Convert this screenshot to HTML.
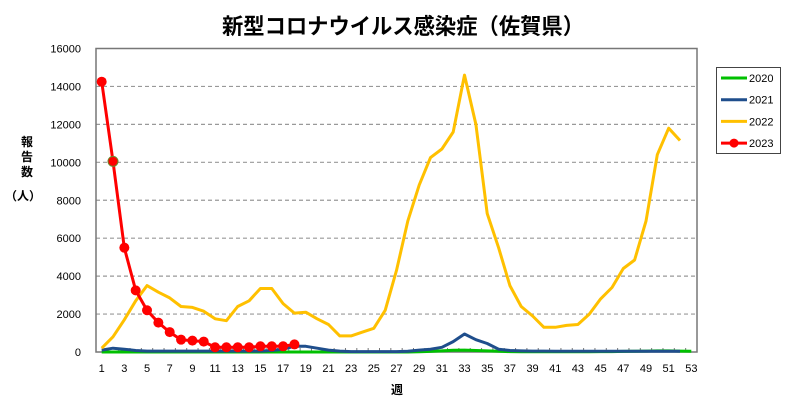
<!DOCTYPE html>
<html><head><meta charset="utf-8"><style>
html,body{margin:0;padding:0;background:#fff;}
svg{display:block;font-family:"Liberation Sans","Noto Sans CJK JP",sans-serif;}
</style></head><body>
<svg id="c" width="806" height="400" viewBox="0 0 806 400" xmlns="http://www.w3.org/2000/svg">
<rect width="806" height="400" fill="#fff"/>
<text x="403" y="34" font-size="22" font-weight="bold" text-anchor="middle" textLength="362" lengthAdjust="spacingAndGlyphs" font-family="'Noto Sans CJK JP',sans-serif">新型コロナウイルス感染症（佐賀県）</text>
<g id="grid"></g>
<rect x="96" y="48.5" width="601" height="303.5" fill="none" stroke="#777" stroke-width="1.5"/>
<g id="series"></g>
<g font-size="12" font-weight="bold" font-family="'Noto Sans CJK JP',sans-serif" text-anchor="middle">
<text x="27" y="146">報</text><text x="27" y="161">告</text><text x="27" y="176">数</text>
<text x="23" y="200">（人）</text>
<text x="397" y="394">週</text>
</g>
<g id="leg">
<rect x="716.5" y="67.5" width="64" height="86" fill="#fff" stroke="#444" stroke-width="1"/>
</g>
</svg>
<script>
var ns="http://www.w3.org/2000/svg";
function el(t,a,p){var e=document.createElementNS(ns,t);for(var k in a)e.setAttribute(k,a[k]);(p||document.getElementById('c')).appendChild(e);return e;}
function X(w){return 96+(w-0.5)*601/53;}
function Y(v){return 352-v*303.5/16000;}
var g=document.getElementById('grid');
for(var v=0;v<=16000;v+=2000){
 var y=Y(v);
 if(v>0&&v<16000) el('line',{x1:96,x2:697,y1:y,y2:y,stroke:'#999','stroke-dasharray':'4,3','stroke-width':1.2},g);
 var t=el('text',{x:81,y:y+4,'font-size':11,'text-anchor':'end'},g);t.textContent=v;
}
for(var w=1;w<=53;w+=2){var t=el('text',{x:X(w),y:372,'font-size':11,'text-anchor':'middle'},g);t.textContent=w;}
for(var w=0;w<=53;w++){var x=96+w*601/53;el('line',{x1:x,x2:x,y1:352,y2:348,stroke:'#777'},g);}
var s=document.getElementById('series');
function line(d,col,wd){var p=d.map(function(v,i){return X(i+1).toFixed(1)+','+Y(v).toFixed(1)}).join(' ');el('polyline',{points:p,fill:'none',stroke:col,'stroke-width':wd,'stroke-linejoin':'round'},s);}
var d20=[0,0,0,0,0,0,0,0,0,0,0,0,0,0,0,0,0,0,0,0,0,0,0,0,0,0,0,0,10,30,60,90,100,80,60,40,20,10,10,10,10,10,10,10,20,20,30,40,50,60,60,50,40];
var d21=[100,200,150,80,50,50,50,50,50,50,50,50,50,50,50,80,150,300,300,200,100,50,20,20,20,20,20,40,100,150,250,550,950,650,450,150,80,60,50,50,40,40,40,40,40,40,40,40,40,40,40,40];
var d22=[200,800,1700,2700,3500,3150,2850,2400,2350,2150,1750,1650,2400,2700,3350,3350,2550,2050,2100,1750,1450,850,850,1050,1250,2200,4300,6900,8800,10250,10700,11600,14600,12000,7300,5500,3500,2400,1900,1300,1300,1400,1450,2000,2800,3400,4400,4850,6900,10400,11800,11150];
var d23=[14250,10050,5500,3250,2200,1550,1050,650,600,550,250,250,250,250,300,300,300,400];
line(d20,'#00c000',3);line(d21,'#1f4e8c',3);line(d22,'#ffc000',3);line(d23,'#ff0000',3);
d23.forEach(function(v,i){el('circle',{cx:X(i+1),cy:Y(v),r:5,fill:'#ff0000',stroke:i==1?'#6a8a2a':'none','stroke-width':1},s);});
var L=document.getElementById('leg');
[['2020','#00c000'],['2021','#1f4e8c'],['2022','#ffc000'],['2023','#ff0000']].forEach(function(a,i){
 var y=78+i*21.7;
 el('line',{x1:721,x2:747,y1:y,y2:y,stroke:a[1],'stroke-width':3},L);
 if(i==3) el('circle',{cx:734,cy:y,r:4.5,fill:'#ff0000'},L);
 var t=el('text',{x:749,y:y+4,'font-size':11},L);t.textContent=a[0];
});
</script>
</body></html>
